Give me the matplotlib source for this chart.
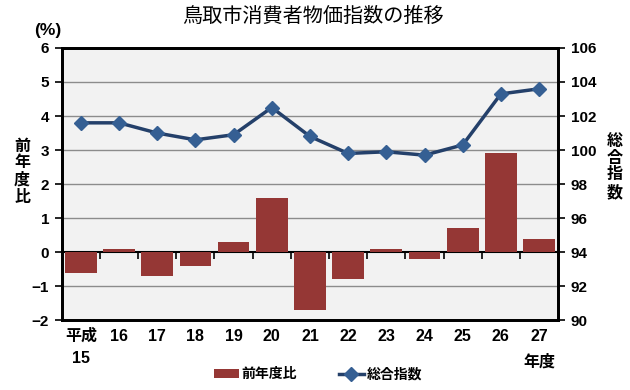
import matplotlib.pyplot as plt
import numpy as np

plt.rcParams['font.family'] = ['Liberation Sans', 'Noto Sans CJK JP', 'DejaVu Sans']

years = ['平成\n15', '16', '17', '18', '19', '20', '21', '22', '23', '24', '25', '26', '27']
yoy = [-0.6, 0.1, -0.7, -0.4, 0.3, 1.6, -1.7, -0.8, 0.1, -0.2, 0.7, 2.9, 0.4]
index = [101.6, 101.6, 101.0, 100.6, 100.9, 102.5, 100.8, 99.8, 99.9, 99.7, 100.3, 103.3, 103.6]

x = np.arange(len(years))

fig = plt.figure(figsize=(6.3, 3.9), dpi=100)
ax = fig.add_axes([0.098, 0.179, 0.788, 0.698])
ax.set_facecolor('#f2f2f2')

bars = ax.bar(x, yoy, width=0.83, color='#953735', zorder=3, label='前年度比')
ax.set_xlim(-0.5, len(years) - 0.5)
ax.set_ylim(-2, 6)
ax.set_yticks(range(-2, 7))
ax.set_yticklabels(['−2', '−1', '0', '1', '2', '3', '4', '5', '6'])
for v in range(-1, 6):
    if v != 0:
        ax.axhline(v, color='#8c8c8c', lw=1, zorder=1)

ax.set_xticks(x)
ax.set_xticklabels(years, fontsize=11.5, fontweight='bold', linespacing=1.6)
ax.tick_params(axis='x', length=0, pad=6)
ax.tick_params(axis='y', direction='out', length=5, width=1.2, labelsize=11, pad=4)
for lab in ax.get_yticklabels():
    lab.set_fontweight('bold')
for s in ax.spines.values():
    s.set_linewidth(2)
    s.set_color('black')

# zero axis with category tick marks
zero_pos = (0 - (-2)) / (6 - (-2))
sec = ax.secondary_xaxis(zero_pos)
sec.set_xticks(x[:-1] + 0.5)
sec.set_xticklabels([])
sec.tick_params(direction='out', length=5, width=1.2)
sec.spines['bottom'].set_linewidth(1.5)

ax2 = ax.twinx()
line, = ax2.plot(x, index, color='#24406a', lw=2.5, marker='D', markersize=7.5,
                 markerfacecolor='#355f93', markeredgecolor='#355f93', zorder=4, label='総合指数')
ax2.set_ylim(90, 106)
ax2.set_yticks(range(90, 107, 2))
ax2.tick_params(axis='y', direction='out', length=5, width=1.2, labelsize=11, pad=4)
for lab in ax2.get_yticklabels():
    lab.set_fontweight('bold')
for s in ax2.spines.values():
    s.set_linewidth(2)

fig.text(0.497, 0.958, '鳥取市消費者物価指数の推移', ha='center', va='center', fontsize=14.5)
fig.text(0.076, 0.922, '(%)', ha='center', va='center', fontsize=12.5, fontweight='bold')
fig.text(0.035, 0.56, '前\n年\n度\n比', ha='center', va='center', fontsize=11.5,
         fontweight='bold', linespacing=1.15)
fig.text(0.976, 0.572, '総\n合\n指\n数', ha='center', va='center', fontsize=11.5,
         fontweight='bold', linespacing=1.15)
ax.text(0.995, -0.125, '年度', transform=ax.transAxes, ha='right', va='top',
        fontsize=11.5, fontweight='bold')

fig.legend(handles=[bars, line], loc='lower center', bbox_to_anchor=(0.505, -0.01), ncol=2,
           frameon=False, prop={'size': 10, 'weight': 'bold'}, handlelength=1.8,
           handletextpad=0.2, columnspacing=3)

fig.savefig('out.png', dpi=100)
